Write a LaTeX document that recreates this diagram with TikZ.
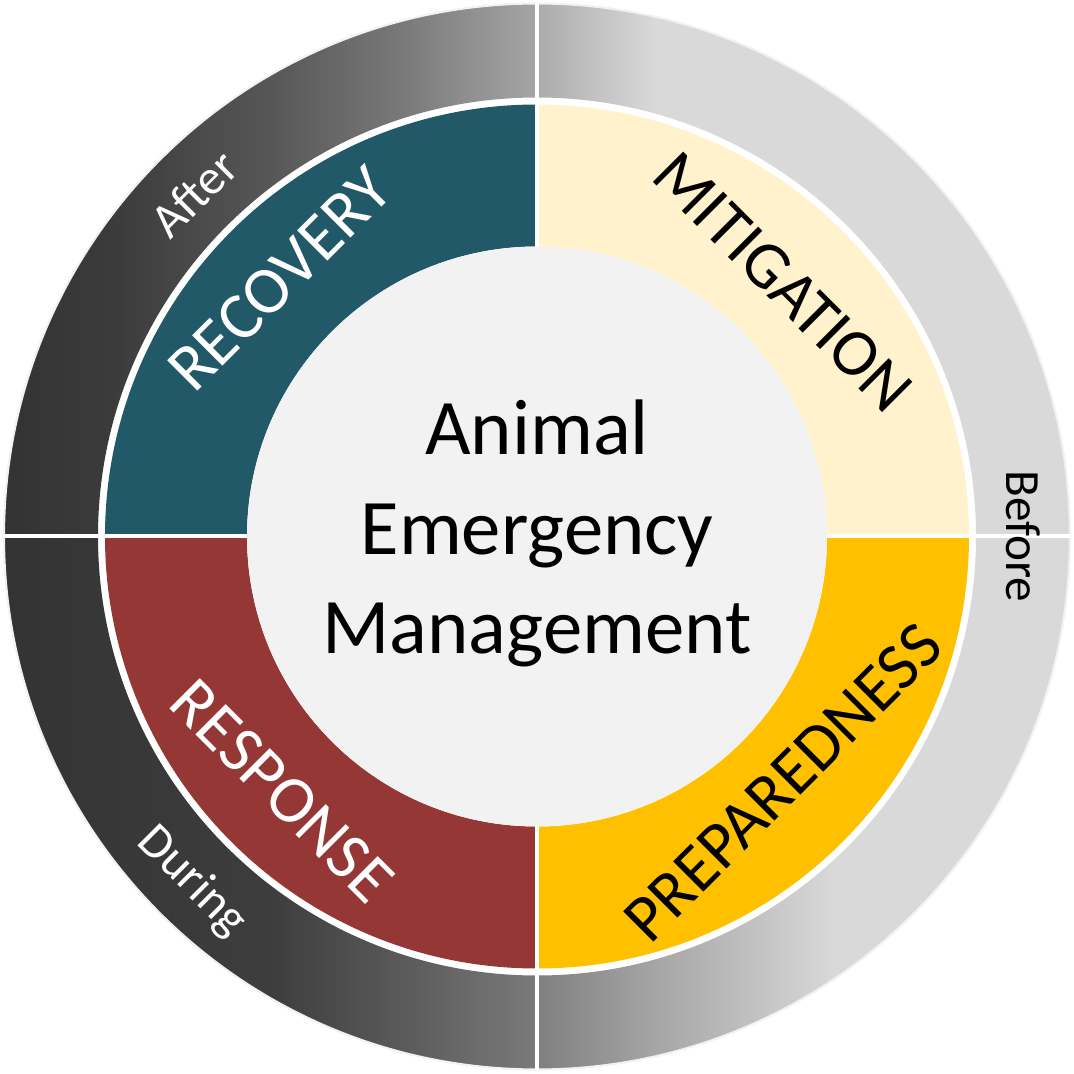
\documentclass[tikz,border=0pt]{standalone}
\usepackage{fontspec}
\setmainfont{Carlito}
\usetikzlibrary{positioning}
\definecolor{recoveryteal}{HTML}{215968}
\definecolor{responsered}{HTML}{953735}
\definecolor{mitigationcream}{HTML}{FFF2CC}
\definecolor{preparedgold}{HTML}{FFC000}
\definecolor{corefill}{HTML}{F2F2F2}
% shadings of the four pieces of the outer ring (25bp = left edge, 75bp = right edge)
\pgfdeclarehorizontalshading{aftershade}{100bp}{color(0bp)=(black!80); color(25bp)=(black!80); color(35bp)=(black!77); color(50bp)=(black!66); color(62bp)=(black!53); color(75bp)=(black!35); color(100bp)=(black!35)}
\pgfdeclarehorizontalshading{beforetopshade}{100bp}{color(0bp)=(black!33); color(25bp)=(black!33); color(36bp)=(black!15); color(100bp)=(black!15)}
\pgfdeclarehorizontalshading{duringshade}{100bp}{color(0bp)=(black!80); color(25bp)=(black!80); color(50bp)=(black!76); color(62bp)=(black!65); color(75bp)=(black!52); color(100bp)=(black!52)}
\pgfdeclarehorizontalshading{beforebottomshade}{100bp}{color(0bp)=(black!50); color(25bp)=(black!50); color(37bp)=(black!34); color(53bp)=(black!15); color(100bp)=(black!15)}
\tikzset{
phase/.style={font=\fontsize{19}{23}\selectfont, inner sep=0pt}, % names of the four phases
period/.style={font=\fontsize{14}{17}\selectfont, inner sep=0pt}, % words on the outer ring
core/.style={font=\fontsize{22.4}{28.4}\selectfont, align=center, inner sep=0pt}, % title in the middle
}

\begin{document}
\begin{tikzpicture}
\useasboundingbox (-5.37,-5.375) rectangle (5.37,5.365);
% outer ring
\shade[shading=aftershade] (180:5.33) arc[start angle=180, end angle=90, radius=5.33] -- (90:4.39) arc[start angle=90, end angle=180, radius=4.39] -- cycle;
\shade[shading=beforetopshade] (90:5.33) arc[start angle=90, end angle=0, radius=5.33] -- (0:4.39) arc[start angle=0, end angle=90, radius=4.39] -- cycle;
\shade[shading=duringshade] (180:5.33) arc[start angle=180, end angle=270, radius=5.33] -- (270:4.39) arc[start angle=270, end angle=180, radius=4.39] -- cycle;
\shade[shading=beforebottomshade] (270:5.33) arc[start angle=270, end angle=360, radius=5.33] -- (0:4.39) arc[start angle=360, end angle=270, radius=4.39] -- cycle;
\draw[corefill, line width=0.6pt] (0,0) circle (5.33);
% phase ring
\fill[recoveryteal] (180:4.32) arc[start angle=180, end angle=90, radius=4.32] -- (90:2.9) arc[start angle=90, end angle=180, radius=2.9] -- cycle;
\fill[mitigationcream] (90:4.32) arc[start angle=90, end angle=0, radius=4.32] -- (0:2.9) arc[start angle=0, end angle=90, radius=2.9] -- cycle;
\fill[responsered] (180:4.32) arc[start angle=180, end angle=270, radius=4.32] -- (270:2.9) arc[start angle=270, end angle=180, radius=2.9] -- cycle;
\fill[preparedgold] (270:4.32) arc[start angle=270, end angle=360, radius=4.32] -- (0:2.9) arc[start angle=360, end angle=270, radius=2.9] -- cycle;
% white cuts between the quarters
\draw[white, line width=0.04cm] (-5.34,0) -- (5.34,0) (0,-5.34) -- (0,5.34);
% centre disc
\fill[corefill] (0,0) circle (2.9);

\node[core] (title) at (0,0.03) {Animal\\Emergency\\Management};
\node[phase, white, rotate=45] (recovery) at (135:3.64) {RECOVERY};
\node[phase, rotate=-45] (mitigation) at (46:3.54) {MITIGATION};
\node[phase, white, rotate=-45] (response) at (225:3.6) {RESPONSE};
\node[phase, rotate=45] (preparedness) at (-45:3.48) {PREPAREDNESS};
\node[period, white, rotate=45] (after) at (135:4.85) {After};
\node[period, rotate=-90] (before) at (0:4.86) {Before};
\node[period, white, rotate=-45] (during) at (225:4.88) {During};
\end{tikzpicture}
\end{document}
